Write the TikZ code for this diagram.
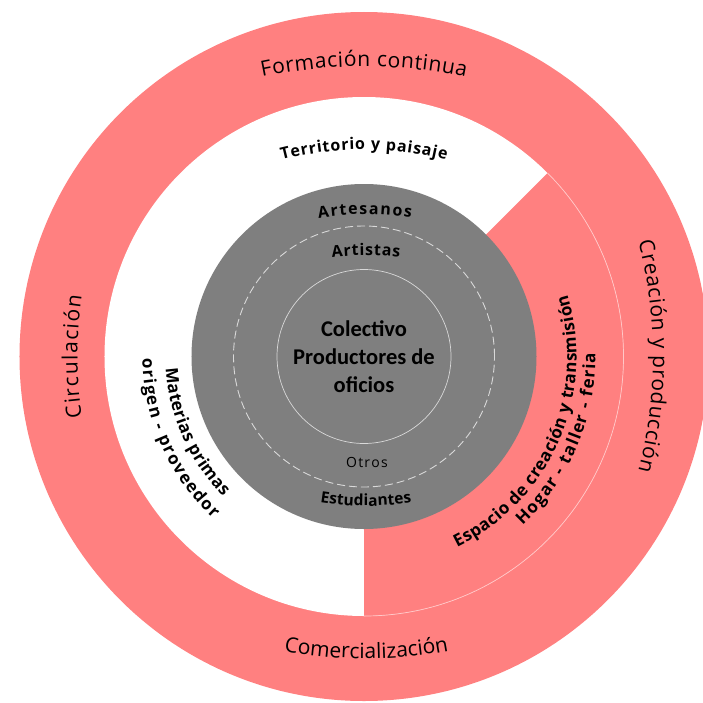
\documentclass[tikz,border=0pt]{standalone}
\usepackage{fontspec}
\setmainfont{Open Sans}
\newfontfamily\calfont{Carlito}
\usetikzlibrary{decorations.text}
\definecolor{ringpink}{RGB}{255,128,128}
\definecolor{coregray}{RGB}{127,127,127}
\definecolor{paleline}{RGB}{217,217,217}
\definecolor{paleedge}{RGB}{255,200,200}
\newcommand\outerfont{\fontsize{21}{24}\selectfont}
\newcommand\midfont{\bfseries\fontsize{16}{19}\selectfont}
\newcommand\bandfont{\bfseries\fontsize{17}{20}\selectfont}
\newcommand\corefont{\bfseries\fontsize{15.5}{18}\selectfont}
\newcommand\topcorefont{\bfseries\fontsize{16}{19}\selectfont}
\newcommand\otrosfont{\fontsize{14}{16}\selectfont}
\tikzset{
  fittext/.style={decorate, decoration={text along path, text align={fit to path}, text={#1}}},
  centertext/.style={align=center, font=\calfont\bfseries\fontsize{22.5}{28}\selectfont, text=black},
}
\begin{document}
\begin{tikzpicture}
\useasboundingbox (-364pt,-345.5pt) rectangle (339pt,356.5pt);
% rings
\fill[ringpink] (0,0) circle[radius=344.5pt];
\fill[white] (0,0) circle[radius=259.5pt];
\fill[ringpink] (0,0) -- (-90:259.5pt) arc[start angle=-90,end angle=45,radius=259.5pt] -- cycle;
\draw[paleedge, line width=0.7pt] (-90:259.5pt) arc[start angle=-90,end angle=45,radius=259.5pt];
\fill[coregray] (0,0) circle[radius=172.5pt];
\draw[paleline, line width=0.9pt, dash pattern=on 8pt off 4pt] (0,0) circle[radius=130.5pt];
\draw[paleline, line width=0.7pt] (0,0) circle[radius=87pt];
% centre
\node[centertext] (core) at (0,0) {Colectivo\\Productores de\\oficios};
% outer ring texts
\path[fittext={|\outerfont|Formación continua}] ([shift={(0pt,-210pt)}]101.75:500pt) arc[start angle=101.75,end angle=78.25,radius=500pt];
\path[fittext={|\outerfont|Creación y producción}] ([shift={(-171pt,0pt)}]14.45:460pt) arc[start angle=14.45,end angle=-14.45,radius=460pt];
\path[fittext={|\outerfont|Circulación}] ([shift={(133.5pt,0pt)}]188.32:420pt) arc[start angle=188.32,end angle=171.68,radius=420pt];
\path[fittext={|\outerfont|Comercialización}] ([shift={(2pt,148pt)}]259.5:450pt) arc[start angle=259.5,end angle=280.5,radius=450pt];
% middle band texts
\path[fittext={|\midfont|Territorio y paisaje}] ([shift={(0pt,-123pt)}]104.41:330pt) arc[start angle=104.41,end angle=75.59,radius=330pt];
\path[fittext={|\bandfont|Materias primas}] (183.4:198.5pt) arc[start angle=183.4,end angle=224.8,radius=198.5pt];
\path[fittext={|\bandfont|origen - proveedor}] (180.5:221.5pt) arc[start angle=180.5,end angle=227.1,radius=221.5pt];
\path[fittext={|\bandfont|Espacio de creación y transmisión}] (-64:212.5pt) arc[start angle=-64,end angle=16.9,radius=212.5pt];
\path[fittext={|\bandfont|Hogar - taller - feria}] (-46.8:231.5pt) arc[start angle=-46.8,end angle=0.9,radius=231.5pt];
% core ring texts
\path[fittext={|\topcorefont|Artesanos}] ([shift={(1pt,-158pt)}]98.88:300pt) arc[start angle=98.88,end angle=81.12,radius=300pt];
\path[fittext={|\topcorefont|Artistas}] ([shift={(2pt,-199pt)}]96.49:300pt) arc[start angle=96.49,end angle=83.51,radius=300pt];
\path[fittext={|\otrosfont|Otros}] (-17.8pt,-111pt) -- (23.8pt,-111pt);
\path[fittext={|\corefont|Estudiantes}] ([shift={(2pt,150.5pt)}]261.21:300pt) arc[start angle=261.21,end angle=278.79,radius=300pt];
\end{tikzpicture}
\end{document}
